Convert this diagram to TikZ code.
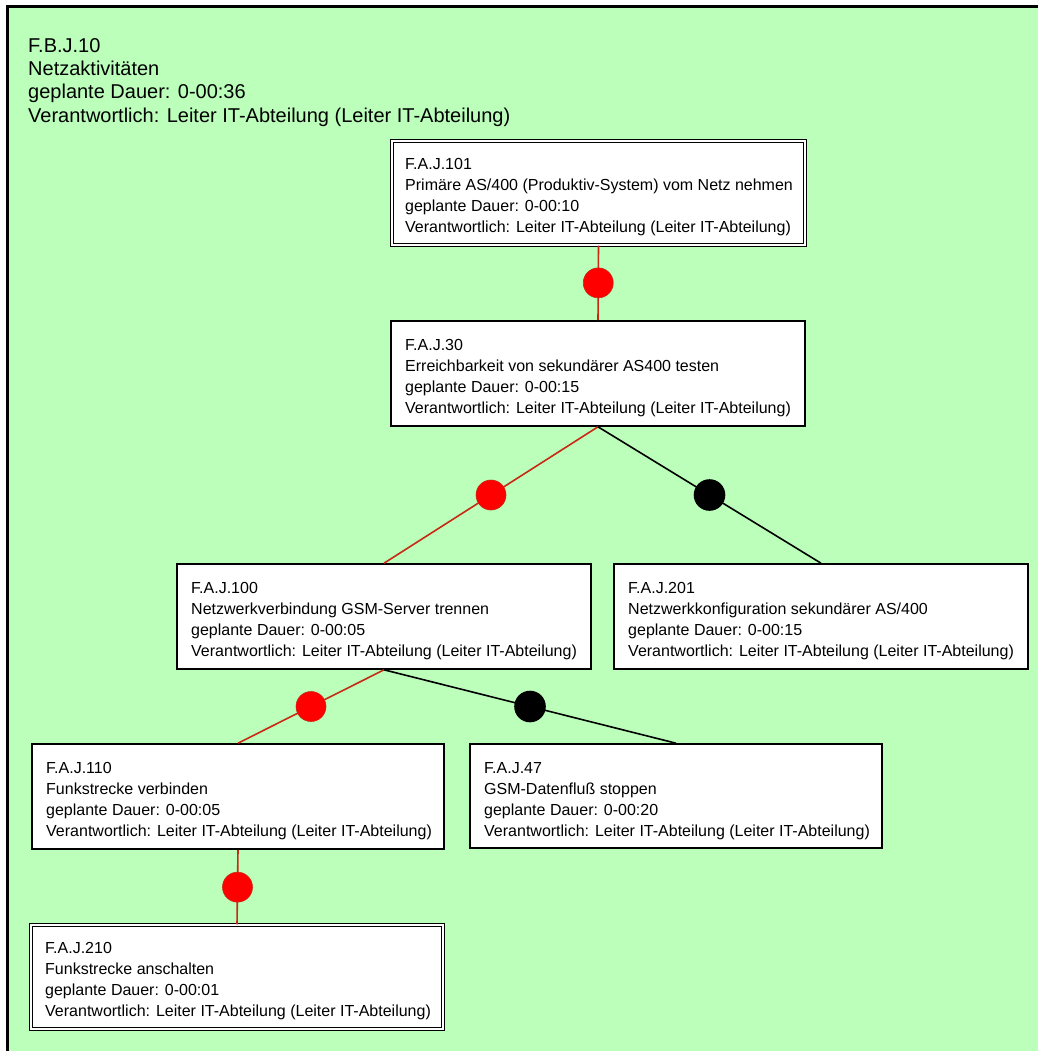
\documentclass[tikz,border=0pt]{standalone}
\usepackage{fontspec}
\setmainfont{Liberation Sans}
\definecolor{bggreen}{RGB}{187,255,187}
\definecolor{linered}{RGB}{200,40,20}
\definecolor{dotred}{RGB}{255,0,0}
\begin{document}
\begin{tikzpicture}[x=1pt,y=-1pt,
  box/.style={draw, line width=1.6pt, fill=white, rectangle, inner sep=0pt},
  dbox/.style={draw, line width=1.1pt, double, double distance=1.8pt, fill=white, rectangle, inner sep=0pt},
  txt/.style={anchor=north west, inner sep=0pt, align=left, font=\fontsize{16}{21}\selectfont},
  ttl/.style={anchor=north west, inner sep=0pt, align=left, font=\fontsize{20}{23.3}\selectfont},
  redline/.style={draw=linered, line width=1.6pt},
  blackline/.style={draw=black, line width=1.6pt},
  reddot/.style={circle, fill=dotred, draw=linered, line width=0.6pt, minimum size=30pt, inner sep=0pt},
  blackdot/.style={circle, fill=black, draw=black, minimum size=30pt, inner sep=0pt}]

\useasboundingbox (0,0) rectangle (1037,1051);
\fill[white] (0,0) rectangle (1037,1051);
\draw[fill=bggreen, line width=3pt] (7.5,7) rectangle (1060,1070);

% title of the frame
\node[ttl] (title) at (28,35.7) {\strut F.B.J.10\\\strut Netzaktivitäten\\\strut geplante Dauer: 0-00:36\\\strut Verantwortlich: Leiter IT-Abteilung (Leiter IT-Abteilung)};

% boxes
\node[dbox, minimum width=413, minimum height=104] (n101) at (598.5,193) {};
\node[box, minimum width=414, minimum height=105] (n30) at (598,373.5) {};
\node[box, minimum width=414, minimum height=105] (n100) at (384,616.5) {};
\node[box, minimum width=414, minimum height=105] (n201) at (821,616.5) {};
\node[box, minimum width=412, minimum height=105] (n110) at (238,796.5) {};
\node[box, minimum width=412, minimum height=104] (n47) at (676,796) {};
\node[dbox, minimum width=412, minimum height=104] (n210) at (237,977) {};

% texts
\node[txt] (t101) at (405,155) {\strut F.A.J.101\\\strut Primäre AS/400 (Produktiv-System) vom Netz nehmen\\\strut geplante Dauer: 0-00:10\\\strut Verantwortlich: Leiter IT-Abteilung (Leiter IT-Abteilung)};
\node[txt] (t30) at (405,336) {\strut F.A.J.30\\\strut Erreichbarkeit von sekundärer AS400 testen\\\strut geplante Dauer: 0-00:15\\\strut Verantwortlich: Leiter IT-Abteilung (Leiter IT-Abteilung)};
\node[txt] (t100) at (191,579) {\strut F.A.J.100\\\strut Netzwerkverbindung GSM-Server trennen\\\strut geplante Dauer: 0-00:05\\\strut Verantwortlich: Leiter IT-Abteilung (Leiter IT-Abteilung)};
\node[txt] (t201) at (628,579) {\strut F.A.J.201\\\strut Netzwerkkonfiguration sekundärer AS/400\\\strut geplante Dauer: 0-00:15\\\strut Verantwortlich: Leiter IT-Abteilung (Leiter IT-Abteilung)};
\node[txt] (t110) at (46,759) {\strut F.A.J.110\\\strut Funkstrecke verbinden\\\strut geplante Dauer: 0-00:05\\\strut Verantwortlich: Leiter IT-Abteilung (Leiter IT-Abteilung)};
\node[txt] (t47) at (484,759) {\strut F.A.J.47\\\strut GSM-Datenfluß stoppen\\\strut geplante Dauer: 0-00:20\\\strut Verantwortlich: Leiter IT-Abteilung (Leiter IT-Abteilung)};
\node[txt] (t210) at (45,939) {\strut F.A.J.210\\\strut Funkstrecke anschalten\\\strut geplante Dauer: 0-00:01\\\strut Verantwortlich: Leiter IT-Abteilung (Leiter IT-Abteilung)};

% connectors
\draw[redline] (n101.south) -- node[reddot] (d1) {} (n30.north);
\draw[redline] (n30.south) -- node[reddot] (d2) {} (n100.north);
\draw[blackline] (n30.south) -- node[blackdot] (d3) {} (n201.north);
\draw[redline] (n100.south) -- node[reddot] (d4) {} (n110.north);
\draw[blackline] (n100.south) -- node[blackdot] (d5) {} (n47.north);
\draw[redline] (n110.south) -- node[reddot] (d6) {} (n210.north);
\end{tikzpicture}
\end{document}
